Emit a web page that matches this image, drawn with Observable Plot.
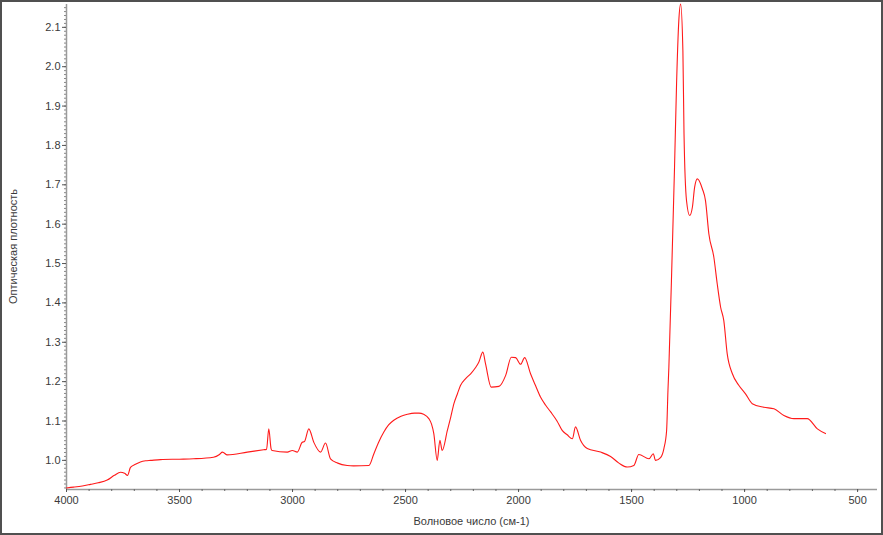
<!DOCTYPE html>
<html>
<head>
<meta charset="utf-8">
<script src="https://cdn.jsdelivr.net/npm/d3@7"></script>
<script src="https://cdn.jsdelivr.net/npm/@observablehq/plot@0.6"></script>
<style>
  html, body { margin: 0; padding: 0; background: #fff; }
  #chart svg { display: block; outline: 2px solid #505050; outline-offset: -2px; }
</style>
</head>
<body>
<div id="chart"></div>
<script>
// Spectrum: wavenumber (cm-1) and optical density
const wavenumbers = [4000,3969,3930,3894,3860,3820,3788,3761,3743,3730,3717,3695,3673,3650,3628,3584,3500,3438,3350,3323,3310,3289,3200,3128,3115,3105,3095,3090,3023,3001,2979,2957,2947,2928,2906,2876,2854,2832,2800,2758,2730,2662,2640,2620,2596,2575,2552,2520,2492,2460,2441,2420,2397,2385,2375,2360,2348,2338,2315,2300,2286,2270,2257,2235,2212,2190,2176,2158,2146,2121,2087,2057,2032,2013,1991,1973,1947,1925,1903,1880,1858,1830,1807,1785,1762,1748,1726,1696,1637,1593,1556,1519,1490,1468,1423,1404,1394,1372,1357,1345,1339,1335,1320,1310,1301,1291,1283,1273,1268,1257,1243,1231,1221,1209,1187,1173,1158,1136,1121,1106,1092,1077,1054,1025,996,966,915,870,826,782,723,678,642];
const absorbance = [0.930,0.932,0.935,0.939,0.943,0.950,0.962,0.970,0.967,0.962,0.982,0.990,0.996,0.999,1.000,1.002,1.003,1.004,1.008,1.015,1.021,1.014,1.021,1.027,1.028,1.080,1.030,1.025,1.021,1.025,1.021,1.046,1.048,1.080,1.046,1.021,1.044,1.004,0.993,0.987,0.986,0.987,1.017,1.045,1.072,1.090,1.102,1.112,1.117,1.120,1.120,1.117,1.106,1.092,1.068,1.000,1.051,1.025,1.076,1.110,1.144,1.170,1.190,1.207,1.220,1.236,1.249,1.275,1.245,1.186,1.188,1.216,1.262,1.261,1.244,1.261,1.220,1.190,1.161,1.140,1.123,1.100,1.076,1.065,1.055,1.085,1.051,1.030,1.021,1.010,0.993,0.983,0.987,1.015,1.004,1.017,1.000,1.007,1.030,1.076,1.178,1.237,1.533,1.744,1.956,2.117,2.159,2.041,1.829,1.660,1.622,1.643,1.694,1.715,1.690,1.660,1.575,1.516,1.448,1.389,1.355,1.271,1.220,1.190,1.169,1.144,1.135,1.131,1.114,1.106,1.106,1.080,1.068];

const xMajorTicks = [4000,3500,3000,2500,2000,1500,1000,500];
const xMinorTicks = d3.range(4000, 412, -100);
const yMajorTicks = [1.0,1.1,1.2,1.3,1.4,1.5,1.6,1.7,1.8,1.9,2.0,2.1];
const yMinorTicks = d3.range(93, 216, 1).map(v => v / 100);

const xDomain = [4000, 412];
const yDomain = [0.926, 2.158];

const xLabel = "Волновое число (см-1)";
const yLabel = "Оптическая плотность";

const data = wavenumbers.map((w, i) => ({w, a: absorbance[i]}));

const axisColor = "#9a9a9a";
const textColor = "#3a3a3a";

const plot = Plot.plot({
  width: 883,
  height: 535,
  marginLeft: 66,
  marginRight: 6,
  marginTop: 4,
  marginBottom: 46,
  style: {fontFamily: "'Liberation Sans', Arial, sans-serif", fontSize: "11px", background: "#fff", color: textColor},
  x: {domain: xDomain, label: null},
  y: {domain: yDomain, label: null},
  marks: [
    Plot.ruleX([xDomain[0]], {stroke: axisColor, strokeWidth: 1.5}),
    Plot.ruleY([yDomain[0]], {stroke: axisColor, strokeWidth: 1.5}),
    Plot.axisX({ticks: xMinorTicks, tickSize: 2, text: null, stroke: "#666"}),
    Plot.axisY({ticks: yMinorTicks, tickSize: 2, text: null, stroke: "#888"}),
    Plot.axisX({ticks: xMajorTicks, tickSize: 3, tickPadding: 4, tickFormat: d => String(d), stroke: "#555", fill: textColor, label: null}),
    Plot.axisY({ticks: yMajorTicks, tickSize: 4, tickPadding: 2, tickFormat: d => d.toFixed(1), stroke: "#555", fill: textColor, label: null}),
    Plot.line(data, {x: "w", y: "a", stroke: "#ff1a1a", strokeWidth: 1.1, curve: "monotone-x"})
  ]
});

const svg = d3.select(plot);
svg.append("text")
  .attr("x", (66 + 877) / 2)
  .attr("y", 525)
  .attr("text-anchor", "middle")
  .attr("fill", textColor)
  .style("font-family", "'Liberation Sans', Arial, sans-serif")
  .style("font-size", "11px")
  .text(xLabel);
svg.append("text")
  .attr("transform", `translate(17, ${(4 + 489) / 2}) rotate(-90)`)
  .attr("text-anchor", "middle")
  .attr("fill", textColor)
  .style("font-family", "'Liberation Sans', Arial, sans-serif")
  .style("font-size", "11px")
  .text(yLabel);

document.getElementById("chart").appendChild(plot);
</script>
</body>
</html>
